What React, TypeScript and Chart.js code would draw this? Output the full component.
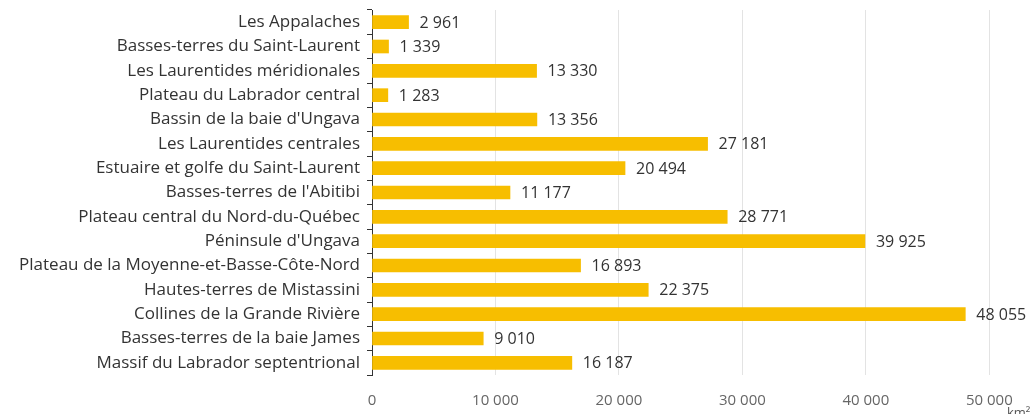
import React, { useEffect, useRef } from "react";
import { Chart, registerables } from "chart.js";

Chart.register(...registerables);

const categories: string[] = [
  "Les Appalaches",
  "Basses-terres du Saint-Laurent",
  "Les Laurentides méridionales",
  "Plateau du Labrador central",
  "Bassin de la baie d'Ungava",
  "Les Laurentides centrales",
  "Estuaire et golfe du Saint-Laurent",
  "Basses-terres de l'Abitibi",
  "Plateau central du Nord-du-Québec",
  "Péninsule d'Ungava",
  "Plateau de la Moyenne-et-Basse-Côte-Nord",
  "Hautes-terres de Mistassini",
  "Collines de la Grande Rivière",
  "Basses-terres de la baie James",
  "Massif du Labrador septentrional",
];

const areas: number[] = [
  2961, 1339, 13330, 1283, 13356, 27181, 20494, 11177, 28771, 39925, 16893,
  22375, 48055, 9010, 16187,
];

const xTicks: number[] = [0, 10000, 20000, 30000, 40000, 50000];
const unitLabel = "km²";

const FONT = "'Open Sans', 'Noto Sans', sans-serif";
const BAR_COLOR = "#F7BE00";

const fmt = (v: number) =>
  String(Math.round(v)).replace(/\B(?=(\d{3})+(?!\d))/g, " ");

const valueLabels = {
  id: "valueLabels",
  afterDatasetsDraw(chart: any) {
    const ctx = chart.ctx;
    const meta = chart.getDatasetMeta(0);
    ctx.save();
    ctx.font = `16px ${FONT}`;
    ctx.fillStyle = "#333333";
    ctx.textAlign = "left";
    ctx.textBaseline = "middle";
    meta.data.forEach((bar: any, i: number) => {
      const v = chart.data.datasets[0].data[i] as number;
      ctx.fillText(fmt(v), bar.x + 11, bar.y + 1);
    });
    ctx.restore();
  },
  afterDraw(chart: any) {
    const ctx = chart.ctx;
    ctx.save();
    ctx.font = `13px ${FONT}`;
    ctx.fillStyle = "#555555";
    ctx.textAlign = "left";
    ctx.textBaseline = "alphabetic";
    ctx.fillText(unitLabel, 1007, 417);
    ctx.restore();
  },
};

export default function App() {
  const ref = useRef<HTMLCanvasElement | null>(null);

  useEffect(() => {
    if (!ref.current) return;
    const chart = new Chart(ref.current, {
      type: "bar",
      data: {
        labels: categories,
        datasets: [
          {
            data: areas,
            backgroundColor: BAR_COLOR,
            borderWidth: 0,
            barThickness: 13,
          },
        ],
      },
      options: {
        indexAxis: "y",
        animation: false,
        responsive: true,
        maintainAspectRatio: false,
        layout: { padding: { top: 10, left: 0, right: 0, bottom: 0 } },
        plugins: {
          legend: { display: false },
          tooltip: { enabled: false },
        },
        scales: {
          x: {
            min: 0,
            max: 53700,
            afterBuildTicks: (scale: any) => {
              scale.ticks = xTicks.map((v) => ({ value: v }));
            },
            afterFit: (scale: any) => {
              scale.height = 39;
              scale.paddingLeft = 0;
              scale.paddingRight = 0;
            },
            border: { display: false },
            grid: {
              color: (c: any) =>
                c.tick && c.tick.value === 0 ? "rgba(0,0,0,0)" : "#e3e3e3",
              lineWidth: 1,
              drawTicks: false,
            },
            ticks: {
              padding: 17,
              color: "#666666",
              font: { family: FONT, size: 15 },
              callback: (v: any) => fmt(Number(v)),
              maxRotation: 0,
            },
          },
          y: {
            afterFit: (scale: any) => {
              scale.width = 372;
              scale.paddingTop = 0;
              scale.paddingBottom = 0;
            },
            border: { display: true, color: "#333333", width: 1 },
            grid: {
              offset: true,
              drawOnChartArea: false,
              drawTicks: true,
              tickLength: 5,
              color: "#333333",
            },
            ticks: {
              padding: 7,
              color: "#333333",
              font: { family: FONT, size: 17 },
              autoSkip: false,
            },
          },
        },
      },
      plugins: [valueLabels],
    });
    return () => chart.destroy();
  }, []);

  return (
    <div
      style={{
        position: "fixed",
        left: 0,
        top: 0,
        width: 1035,
        height: 414,
        background: "#ffffff",
      }}
    >
      <canvas ref={ref} />
    </div>
  );
}
